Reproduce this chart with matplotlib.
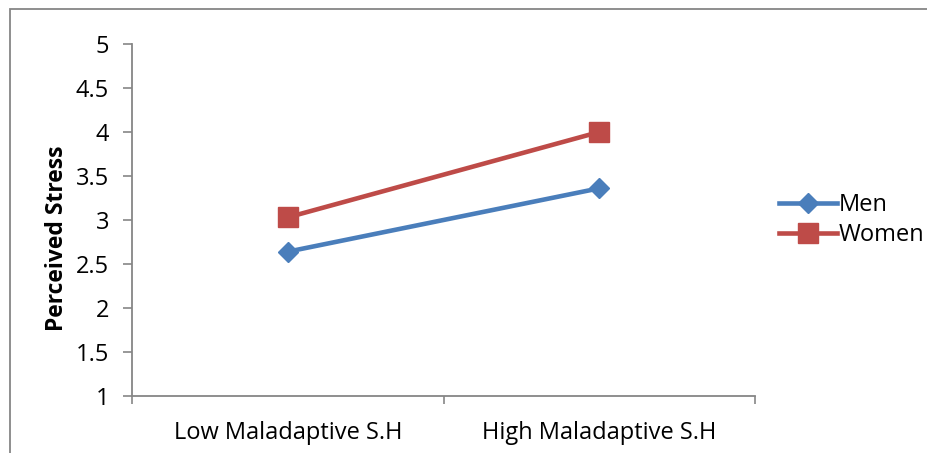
import matplotlib.pyplot as plt
from matplotlib.patches import Rectangle

categories = ["Low Maladaptive S.H", "High Maladaptive S.H"]
men = [2.64, 3.36]
women = [3.03, 4.0]
yticks = [1, 1.5, 2, 2.5, 3, 3.5, 4, 4.5, 5]

plt.rcParams['font.family'] = ['Open Sans', 'DejaVu Sans']
grey = "#868686"
fs = 17

fig = plt.figure(figsize=(9.27, 4.53), dpi=100)
ax = fig.add_axes([132 / 927, 1 - 396 / 453, (755 - 132) / 927, (396 - 44) / 453])

x = list(range(len(categories)))
ax.plot(x, men, color="#4A7EBB", lw=3.3, marker="D", ms=10.5, label="Men")
ax.plot(x, women, color="#BE4B48", lw=3.3, marker="s", ms=14, label="Women")

ax.set_xlim(-0.5, len(categories) - 0.5)
ax.set_ylim(1, 5)
ax.set_yticks(yticks)
ax.set_yticklabels([f"{v:g}" for v in yticks])
ax.set_xticks([i - 0.5 for i in range(len(categories) + 1)])
ax.set_xticklabels([])
ax.set_xticks(x, minor=True)
ax.set_xticklabels(categories, minor=True)
ax.tick_params(axis="x", which="major", length=6, color=grey, width=1.2)
ax.tick_params(axis="x", which="minor", length=0, pad=18, labelsize=fs)
ax.tick_params(axis="y", length=6.5, color=grey, width=1.2, labelsize=fs, pad=10)

for s in ["top", "right"]:
    ax.spines[s].set_visible(False)
for s in ["left", "bottom"]:
    ax.spines[s].set_color(grey)
    ax.spines[s].set_linewidth(1.3)

fig.text(57 / 927, 1 - 238 / 453, "Perceived Stress", rotation=90, ha="center",
         va="center", fontsize=16.5, fontweight="bold")

ax.legend(loc="center left", bbox_to_anchor=(779 / 927, 1 - 220 / 453),
          bbox_transform=fig.transFigure, frameon=False, fontsize=fs,
          handlelength=2.45, handletextpad=0.08, labelspacing=0.27,
          borderpad=0, borderaxespad=0)

# chart-area border, cut off at right and bottom
fig.patches.append(Rectangle((10 / 927, -0.1), 1.2, 1.1 - 9 / 453, fill=False,
                             edgecolor=grey, lw=1.3, transform=fig.transFigure))

fig.savefig("out.png", dpi=100)
